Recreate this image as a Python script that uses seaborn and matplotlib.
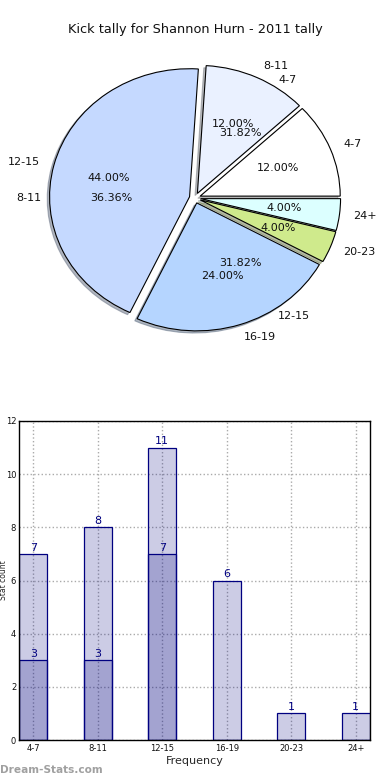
import matplotlib
matplotlib.use('Agg')
import matplotlib.pyplot as plt
import seaborn as sns

categories = ['4-7', '8-11', '12-15', '16-19', '20-23', '24+']
tally_a = [3, 3, 11, 6, 1, 1]
tally_b = [7, 8, 7, 0, 0, 0]
pie_colors = ['#ffffff', '#eaf1ff', '#c5d9ff', '#b5d5ff', '#cfea8c', '#dcffff']
y_ticks = [0, 2, 4, 6, 8, 10, 12]
title = 'Kick tally for Shannon Hurn - 2011 tally'

sns.set_theme(style='white')
plt.rcParams['font.family'] = ['DejaVu Sans']

fig = plt.figure(figsize=(3.9, 7.8), dpi=100)

# ---- pie ----
ax1 = fig.add_axes([20/390, (780-358)/780, 350/390, 320/780])
b_vals = [v for v in tally_b if v > 0]
b_labels = [c for c, v in zip(categories, tally_b) if v > 0]
ax1.pie(b_vals, labels=b_labels, autopct='%.2f%%', startangle=0,
        wedgeprops=dict(fill=False, linewidth=0),
        textprops=dict(fontsize=8, color='#111111'))
ax1.pie(tally_a, labels=categories, colors=pie_colors, explode=[0.04]*6,
        autopct='%.2f%%', shadow={'ox': -0.012, 'oy': -0.012, 'shade': 0.5},
        startangle=0,
        wedgeprops=dict(edgecolor='black', linewidth=0.8),
        textprops=dict(fontsize=8, color='#111111'))
ax1.set_aspect('auto')
ax1.set_xlim(-1.25, 1.25)
ax1.set_ylim(-1.25, 1.25)
fig.text(0.5, 1-30/780, title, ha='center', va='center', fontsize=9.3, color='#111111')

# ---- bars ----
ax2 = fig.add_axes([19/390, 40/780, 351/390, 319/780])
sns.barplot(x=categories, y=tally_b, ax=ax2, color='navy', saturation=1, width=0.44)
sns.barplot(x=categories, y=tally_a, ax=ax2, color='navy', saturation=1, width=0.44)
for p in ax2.patches:
    p.set_facecolor((0, 0, 0.5, 0.2))
    p.set_edgecolor('#000080')
    p.set_linewidth(0.9)
for cont, vals in zip(ax2.containers, [tally_b, tally_a]):
    ax2.bar_label(cont, labels=[str(v) if v else '' for v in vals],
                  color='#000080', fontsize=8, padding=1)
ax2.set_xlim(-0.22, 5.22)
ax2.set_ylim(0, 12)
ax2.set_yticks(y_ticks)
ax2.grid(True, linestyle=':', color='#aaaaaa', linewidth=1.0)
ax2.set_axisbelow(True)
for s in ax2.spines.values():
    s.set_visible(True)
    s.set_color('black')
    s.set_linewidth(1.0)
ax2.tick_params(labelsize=6, length=0, pad=3, colors='#111111')
ax2.tick_params(axis='y', pad=2)
ax2.set_xlabel('Frequency', fontsize=8, labelpad=2)
ax2.set_ylabel('Stat count', fontsize=5.5)
ax2.yaxis.set_label_coords(-0.031, 0.5)

fig.text(0.0, 1-770/780, 'Dream-Stats.com', color='#a0a0a0', fontsize=7.6,
         fontweight='bold', ha='left', va='center')

fig.savefig('out.png', dpi=100)
